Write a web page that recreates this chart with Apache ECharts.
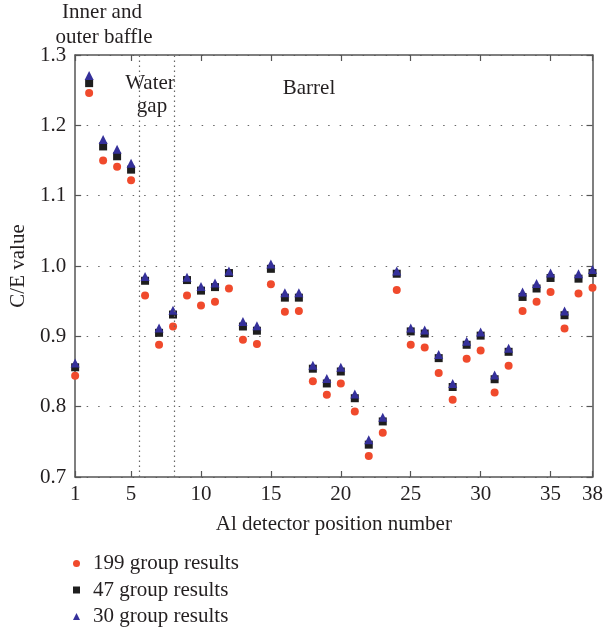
<!DOCTYPE html>
<html>
<head>
<meta charset="utf-8">
<script src="https://cdn.jsdelivr.net/npm/echarts@6/dist/echarts.min.js"></script>
<style>
html,body{margin:0;padding:0;background:#fff;}
#c{width:606px;height:635px;}
</style>
</head>
<body>
<div id="c"></div>
<script>
const positions = [1,2,3,4,5,6,7,8,9,10,11,12,13,14,15,16,17,18,19,20,21,22,23,24,25,26,27,28,29,30,31,32,33,34,35,36,37,38];
const group199 = [0.844,1.246,1.150,1.141,1.122,0.958,0.888,0.914,0.958,0.944,0.949,0.968,0.895,0.889,0.974,0.935,0.936,0.836,0.817,0.833,0.793,0.730,0.763,0.966,0.888,0.884,0.848,0.810,0.868,0.880,0.820,0.858,0.936,0.949,0.963,0.911,0.961,0.969];
const group47 = [0.856,1.260,1.170,1.156,1.137,0.979,0.905,0.931,0.980,0.965,0.970,0.990,0.914,0.908,0.996,0.955,0.955,0.854,0.833,0.850,0.812,0.746,0.779,0.989,0.907,0.904,0.869,0.828,0.888,0.901,0.839,0.878,0.956,0.968,0.983,0.930,0.982,0.990];
const group30 = [0.862,1.271,1.180,1.166,1.146,0.985,0.912,0.937,0.984,0.971,0.976,0.993,0.921,0.915,1.003,0.962,0.962,0.859,0.840,0.856,0.818,0.753,0.785,0.993,0.912,0.909,0.874,0.833,0.893,0.906,0.845,0.883,0.963,0.975,0.990,0.936,0.989,0.995];
const xTicks = [1,5,10,15,20,25,30,35,38];
const regionBounds = [5.6, 8.1];
const seriesNames = ['199 group results','47 group results','30 group results'];

const font = 'Liberation Serif';
const txt = '#231f20';
const axisCol = '#555';
const fs = 21;
const fontCss = fs + 'px "Liberation Serif"';

const pair = arr => positions.map((p,i)=>[p,arr[i]]);

const chart = echarts.init(document.getElementById('c'), null, {renderer:'canvas'});
chart.setOption({
  animation:false,
  backgroundColor:'#fff',
  textStyle:{fontFamily:font},
  grid:{left:73,right:12,top:55,bottom:158,containLabel:false},
  xAxis:[{
    type:'value',min:1,max:38,position:'bottom',
    name:'Al detector position number',nameLocation:'middle',nameGap:37,
    nameTextStyle:{fontFamily:font,fontSize:fs,color:txt},
    axisLine:{lineStyle:{color:axisCol,width:1.5}},
    axisTick:{inside:true,length:6,customValues:xTicks,lineStyle:{color:axisCol,width:1.2}},
    axisLabel:{customValues:xTicks,fontFamily:font,fontSize:fs,color:txt,margin:7},
    splitLine:{show:false}
  },{
    type:'value',min:1,max:38,position:'top',
    axisLine:{show:true,onZero:false,lineStyle:{color:axisCol,width:1.5}},
    axisTick:{inside:true,length:6,customValues:xTicks,lineStyle:{color:axisCol,width:1.2}},
    axisLabel:{show:false},splitLine:{show:false}
  }],
  yAxis:[{
    type:'value',min:0.7,max:1.3,interval:0.1,position:'left',
    name:'C/E value',nameLocation:'middle',nameGap:46,nameRotate:90,
    nameTextStyle:{fontFamily:font,fontSize:fs,color:txt},
    axisLine:{show:true,lineStyle:{color:axisCol,width:1.5}},
    axisTick:{show:true,inside:true,length:6,lineStyle:{color:axisCol,width:1.2}},
    axisLabel:{fontFamily:font,fontSize:fs,color:txt,margin:9,formatter:v=>v.toFixed(1)},
    splitLine:{show:true,lineStyle:{color:'#666',width:1.2,type:[1.5,10]}}
  },{
    type:'value',min:0.7,max:1.3,interval:0.1,position:'right',
    axisLine:{show:true,onZero:false,lineStyle:{color:axisCol,width:1.5}},
    axisTick:{show:true,inside:true,length:6,lineStyle:{color:axisCol,width:1.2}},
    axisLabel:{show:false},splitLine:{show:false}
  }],
  legend:{
    orient:'vertical',left:73,top:553,height:82,padding:0,itemWidth:7,itemHeight:7,itemGap:5.5,
    textStyle:{fontFamily:font,fontSize:fs,color:txt,padding:[0,0,0,8]},
    data:[
      {name:seriesNames[0],icon:'circle'},
      {name:seriesNames[1],icon:'rect'},
      {name:seriesNames[2],icon:'triangle'}
    ]
  },
  graphic:[
    {type:'text',x:102,y:12,style:{text:'Inner and',font:fontCss,fill:txt,align:'center',verticalAlign:'middle'}},
    {type:'text',x:104,y:37,style:{text:'outer baffle',font:fontCss,fill:txt,align:'center',verticalAlign:'middle'}},
    {type:'text',x:150,y:83,style:{text:'Water',font:fontCss,fill:txt,align:'center',verticalAlign:'middle'}},
    {type:'text',x:152,y:106,style:{text:'gap',font:fontCss,fill:txt,align:'center',verticalAlign:'middle'}},
    {type:'text',x:309,y:88,style:{text:'Barrel',font:fontCss,fill:txt,align:'center',verticalAlign:'middle'}}
  ],
  series:[
    {name:seriesNames[0],type:'scatter',symbol:'circle',symbolSize:8,
     itemStyle:{color:'#f04a2c',opacity:1},data:pair(group199),
     markLine:{silent:true,symbol:'none',label:{show:false},
       lineStyle:{color:'#666',width:1.2,type:[1.5,3.5]},
       data:regionBounds.map(v=>({xAxis:v}))}},
    {name:seriesNames[1],type:'scatter',symbol:'rect',symbolSize:8,
     itemStyle:{color:'#1e1e1e',opacity:1},data:pair(group47)},
    {name:seriesNames[2],type:'scatter',symbol:'triangle',symbolSize:9,
     itemStyle:{color:'#35309a',opacity:1},data:pair(group30)}
  ]
});
</script>
</body>
</html>
